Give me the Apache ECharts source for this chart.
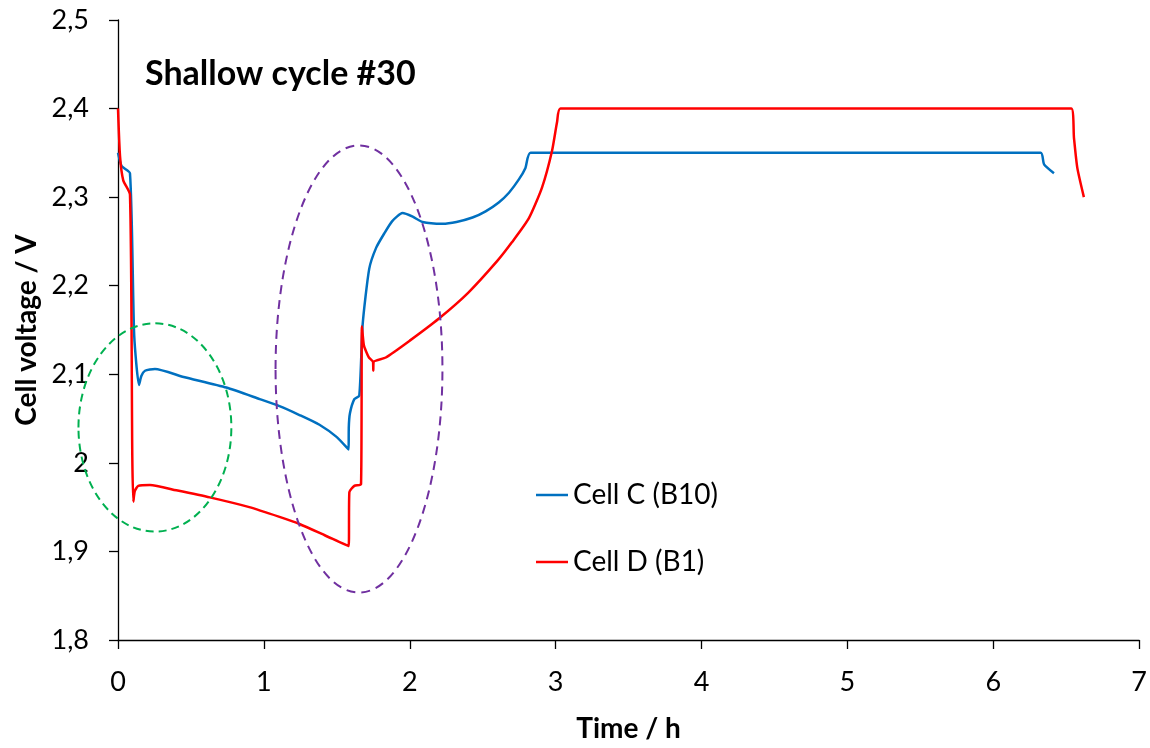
<!DOCTYPE html>
<html>
<head>
<meta charset="utf-8">
<script src="https://cdn.jsdelivr.net/npm/echarts@6/dist/echarts.min.js"></script>
<style>
  html, body { margin: 0; padding: 0; background: #fff; }
  #chart { width: 1150px; height: 748px; }
</style>
</head>
<body>
<div id="chart"></div>
<script>
// ---- Data ----
const xTicks = [0, 1, 2, 3, 4, 5, 6, 7];
const yTicks = [1.8, 1.9, 2.0, 2.1, 2.2, 2.3, 2.4, 2.5];

const seriesNames = ['Cell C (B10)', 'Cell D (B1)'];

// Cell C (B10): time (h) and voltage (V)
const cellC_t = [0, 0.025, 0.082, 0.111, 0.144, 0.16, 0.185, 0.253, 0.45, 0.743, 0.971, 1.107, 1.244, 1.381, 1.50, 1.581, 1.582, 1.59, 1.62, 1.654, 1.677, 1.722, 1.77, 1.825, 1.88, 1.95, 2.02, 2.087, 2.224, 2.32, 2.43, 2.52, 2.61, 2.68, 2.748, 2.793, 2.828, 6.325, 6.348, 6.416];
const cellC_v = [2.35, 2.335, 2.327, 2.144, 2.088, 2.098, 2.104, 2.106, 2.097, 2.085, 2.072, 2.064, 2.054, 2.043, 2.029, 2.015, 2.040, 2.056, 2.072, 2.076, 2.156, 2.219, 2.243, 2.259, 2.273, 2.282, 2.278, 2.272, 2.270, 2.272, 2.277, 2.284, 2.294, 2.305, 2.320, 2.333, 2.350, 2.350, 2.337, 2.327];

// Cell D (B1): time (h) and voltage (V)
const cellD_t = [0, 0.014, 0.036, 0.082, 0.098, 0.105, 0.115, 0.139, 0.219, 0.40, 0.629, 0.90, 1.107, 1.244, 1.42, 1.581, 1.586, 1.62, 1.666, 1.672, 1.685, 1.70, 1.72, 1.748, 1.75, 1.752, 1.836, 2.0, 2.2, 2.4, 2.6, 2.7, 2.816, 2.907, 2.975, 3.01, 3.033, 6.535, 6.553, 6.576, 6.621];
const cellD_v = [2.40, 2.346, 2.319, 2.303, 2.007, 1.956, 1.968, 1.974, 1.975, 1.969, 1.961, 1.950, 1.939, 1.931, 1.918, 1.906, 1.967, 1.974, 1.976, 2.154, 2.133, 2.126, 2.119, 2.114, 2.104, 2.114, 2.119, 2.138, 2.163, 2.192, 2.228, 2.249, 2.276, 2.311, 2.352, 2.385, 2.400, 2.400, 2.367, 2.333, 2.300];

// Highlight ellipses in data units: centre (t, v) and radii (dt, dv)
const greenEllipse  = [0.253, 2.040, 0.524, 0.1176];
const purpleEllipse = [1.652, 2.106, 0.572, 0.2524];

const titleText = 'Shallow cycle #30';
const xName = 'Time / h';
const yName = 'Cell voltage / V';

// ---- Chart ----
const FONT = 'Lato';
const chart = echarts.init(document.getElementById('chart'), null, { renderer: 'canvas' });

function zip(t, v) { return t.map((x, i) => [x, v[i]]); }
function fmtY(v) { return String(+Number(v).toFixed(1)).replace('.', ','); }

const option = {
  animation: false,
  backgroundColor: '#ffffff',
  grid: { left: 118, right: 9, top: 20, bottom: 98, containLabel: false },
  title: {
    text: titleText,
    left: 140, top: 52,
    textStyle: { fontFamily: FONT, fontWeight: 'bold', fontSize: 34, color: '#000' }
  },
  legend: {
    orient: 'vertical',
    left: 531, top: 476,
    itemWidth: 32, itemHeight: 2.5,
    itemGap: 39,
    icon: 'rect',
    data: seriesNames,
    textStyle: { fontFamily: FONT, fontSize: 28, color: '#000', lineHeight: 28 }
  },
  xAxis: {
    type: 'value',
    min: xTicks[0], max: xTicks[xTicks.length - 1], interval: 1,
    name: xName, nameLocation: 'middle', nameGap: 75,
    nameTextStyle: { fontFamily: FONT, fontWeight: 'bold', fontSize: 28, color: '#000' },
    axisLine: { show: true, onZero: false, lineStyle: { color: '#000', width: 1.3 } },
    axisTick: { show: true, inside: false, length: 9, lineStyle: { color: '#000', width: 1.3 } },
    axisLabel: { fontFamily: FONT, fontSize: 27, color: '#000', margin: 29 },
    splitLine: { show: false }
  },
  yAxis: {
    type: 'value',
    min: yTicks[0], max: yTicks[yTicks.length - 1], interval: 0.1,
    name: yName, nameLocation: 'middle', nameGap: 76,
    nameTextStyle: { fontFamily: FONT, fontWeight: 'bold', fontSize: 28, color: '#000' },
    axisLine: { show: true, onZero: false, lineStyle: { color: '#000', width: 1.3 } },
    axisTick: { show: true, inside: false, length: 9, lineStyle: { color: '#000', width: 1.3 } },
    axisLabel: { fontFamily: FONT, fontSize: 27, color: '#000', margin: 29, formatter: fmtY },
    splitLine: { show: false }
  },
  series: [
    {
      name: seriesNames[0], type: 'line', data: zip(cellC_t, cellC_v),
      symbol: 'none', smooth: 0.2, color: '#0070C0',
      lineStyle: { color: '#0070C0', width: 2.5 }
    },
    {
      name: seriesNames[1], type: 'line', data: zip(cellD_t, cellD_v),
      symbol: 'none', smooth: 0.2, color: '#FF0000',
      lineStyle: { color: '#FF0000', width: 2.5 }
    }
  ]
};
chart.setOption(option);

function ellipseGraphic(e, color, dash) {
  const c = chart.convertToPixel({ gridIndex: 0 }, [e[0], e[1]]);
  const r = chart.convertToPixel({ gridIndex: 0 }, [e[0] + e[2], e[1] + e[3]]);
  return {
    type: 'ellipse', silent: true, z: 10,
    shape: { cx: c[0], cy: c[1], rx: Math.abs(r[0] - c[0]), ry: Math.abs(c[1] - r[1]) },
    style: { fill: null, stroke: color, lineWidth: 2, lineDash: dash }
  };
}
chart.setOption({
  graphic: [
    ellipseGraphic(greenEllipse, '#00B050', [8, 5]),
    ellipseGraphic(purpleEllipse, '#7030A0', [9, 6])
  ]
});
</script>
</body>
</html>
